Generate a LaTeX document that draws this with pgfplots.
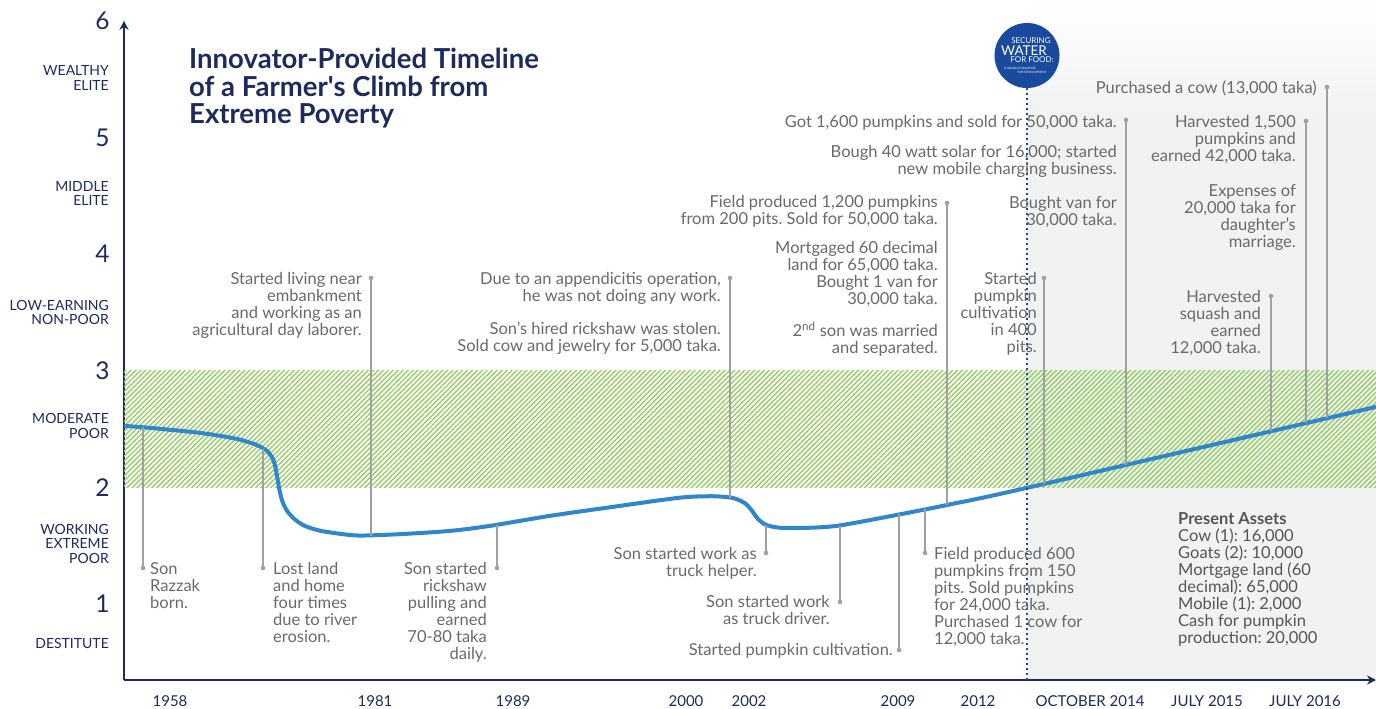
\documentclass[border=0pt]{standalone}
\usepackage{fontspec}
\setmainfont{Lato}
\usepackage{pgfplots}
\pgfplotsset{compat=1.18}
\usetikzlibrary{patterns.meta,arrows.meta}
\frenchspacing
\definecolor{navy}{RGB}{28,42,94}
\definecolor{curvecol}{RGB}{47,134,202}
\definecolor{txtgray}{RGB}{105,105,105}
\definecolor{leader}{RGB}{160,160,160}
\definecolor{hatchgreen}{RGB}{150,204,100}
\definecolor{bggray}{RGB}{241,242,242}
\definecolor{logoblue}{RGB}{26,74,158}
\definecolor{assetgray}{RGB}{85,85,85}
\tikzset{
  ann/.style={font=\fontsize{16.5}{17}\selectfont, text=txtgray, inner sep=0pt},
  annR/.style={ann, anchor=north east, align=right},
  annL/.style={ann, anchor=north west, align=left},
  cat/.style={font=\fontsize{14}{14.5}\selectfont, text=navy, inner sep=0pt, anchor=east, align=right},
}
\newcommand{\leader}[3]{\draw[leader, line width=1.3pt] (#1pt,-#2pt) -- (#1pt,-#3pt); \fill[leader] (#1pt,-#3pt) circle (2.3pt);}
\begin{document}
\frenchspacing
\begin{tikzpicture}
% background grey region (after October 2014)
\fill[bggray] (1027pt,-680pt) rectangle (1376pt,-115pt);
\shade[top color=white, bottom color=bggray] (1027pt,-115pt) rectangle (1376pt,0pt);
\begin{axis}[
  at={(124pt,-680pt)}, anchor=south west,
  scale only axis, width=1252pt, height=659.2pt,
  xmin=124, xmax=1376, ymin=0.35, ymax=6,
  axis lines=left,
  axis line style={draw=navy, line width=2.6pt},
  every outer x axis line/.append style={-{Stealth[length=9pt,width=9pt]}},
  every outer y axis line/.append style={-{Stealth[length=9pt,width=9pt]}},
  tick style={draw=none},
  xtick={170,375,513,686,749,898,978,1090,1207,1305},
  xticklabels={1958,1981,1989,2000,2002,2009,2012,OCTOBER 2014,JULY 2015,JULY 2016},
  xticklabel style={font=\fontsize{15}{15}\selectfont, text=navy, anchor=base, inner sep=0pt, yshift=-24.5pt},
  ytick={1,2,3,4,5,6},
  yticklabels={1,2,3,4,5,6},
  yticklabel style={font=\fontsize{24.5}{24.5}\selectfont, text=navy, anchor=east, inner sep=0pt, xshift=-12pt},
  clip=false,
]
\fill[pattern={Lines[angle=45,distance=3.5pt,line width=1.4pt]}, pattern color=hatchgreen] (axis cs:124,2) rectangle (axis cs:1376,3);
\addplot[curvecol, line width=4pt, smooth, tension=0.45] coordinates {
(124,2.528) (150,2.511) (200,2.468) (235,2.42) (255,2.37) (266,2.32) (272,2.26) (275,2.19) (277,2.10) (279,2.00) (282,1.89) (287,1.80) (295,1.725) (305,1.67) (320,1.63) (340,1.603) (360,1.588) (400,1.60) (450,1.628) (490,1.671) (550,1.757) (613,1.834) (680,1.913) (713,1.925) (733,1.91) (745,1.865) (752,1.80) (758,1.73) (766,1.68) (780,1.655) (810,1.655) (840,1.675) (900,1.77) (947,1.85) (1027,1.997) (1376,2.691)
};
\end{axis}
% dotted line and logo
\draw[logoblue, line width=2.2pt, dash pattern=on 2.2pt off 2.8pt] (1027pt,-88pt) -- (1027pt,-680pt);
\fill[logoblue] (1027pt,-55.5pt) circle (32.5pt);
\node[text=white, inner sep=0pt, font=\fontsize{8}{8}\selectfont] at (1031pt,-41pt) {SECURING};
\node[text=white, inner sep=0pt, font=\fontsize{13.5}{13.5}\selectfont] at (1024pt,-51pt) {WATER};
\node[text=white, inner sep=0pt, font=\fontsize{8}{8}\selectfont] at (1032pt,-60pt) {FOR FOOD:};
\node[text=white, inner sep=0pt, font=\fontsize{3}{3}\selectfont] at (1020pt,-68pt) {A GRAND CHALLENGE};
\node[text=white, inner sep=0pt, font=\fontsize{3}{3}\selectfont] at (1032pt,-72pt) {FOR DEVELOPMENT};
% title
\node[anchor=north west, inner sep=0pt, align=left, text=navy, font=\fontsize{27.5}{27.5}\bfseries\selectfont] at (189pt,-48pt)
  {Innovator-Provided Timeline\\of a Farmer\textquotesingle s Climb from\\Extreme Poverty};
% category labels
\node[cat] at (109pt,-78pt) {WEALTHY\\ELITE};
\node[cat] at (109pt,-193.5pt) {MIDDLE\\ELITE};
\node[cat] at (109pt,-312.5pt) {LOW-EARNING\\NON-POOR};
\node[cat] at (109pt,-426pt) {MODERATE\\POOR};
\node[cat] at (109pt,-543.5pt) {WORKING\\EXTREME\\POOR};
\node[cat] at (109pt,-643pt) {DESTITUTE};
% leader lines
\leader{143}{427}{568}
\leader{263}{449}{568}
\leader{371}{536}{278}
\leader{497}{525}{568}
\leader{730}{498}{278}
\leader{766}{525}{553}
\leader{840}{526}{602}
\leader{899}{514}{650}
\leader{925}{509}{553}
\leader{947}{505}{203}
\leader{1044}{484}{278}
\leader{1126}{465}{120}
\leader{1271}{431}{296}
\leader{1306}{423}{121}
\leader{1327}{418}{87}
% annotations
\node[annL] at (150pt,-562pt) {Son\\Razzak\\born.};
\node[annL] at (273pt,-562pt) {Lost land\\and home\\four times\\due to river\\erosion.};
\node[annR] at (362pt,-272pt) {Started living near\\embankment\\and working as an\\agricultural day laborer.};
\node[annR] at (487pt,-562pt) {Son started\\rickshaw\\pulling and\\earned\\70-80 taka\\daily.};
\node[annR] at (721pt,-272pt) {Due to an appendicitis operation,\\he was not doing any work.};
\node[annR] at (721pt,-322pt) {Son’s hired rickshaw was stolen.\\Sold cow and jewelry for 5,000 taka.};
\node[annR] at (757pt,-547pt) {Son started work as\\truck helper.};
\node[annR] at (830pt,-595pt) {Son started work\\as truck driver.};
\node[annR] at (893pt,-643pt) {Started pumpkin cultivation.};
\node[annL] at (934pt,-547pt) {Field produced 600\\pumpkins from 150\\pits. Sold pumpkins\\for 24,000 taka.\\Purchased 1 cow for\\12,000 taka.};
\node[annR] at (938pt,-195pt) {Field produced 1,200 pumpkins\\from 200 pits. Sold for 50,000 taka.};
\node[annR] at (938pt,-241pt) {Mortgaged 60 decimal\\land for 65,000 taka.\\Bought 1 van for\\30,000 taka.};
\node[annR] at (938pt,-322pt) {2\textsuperscript{nd} son was married\\and separated.};
\node[annR] at (1037pt,-272pt) {Started\\pumpkin\\cultivation\\in 400\\pits.};
\node[annR] at (1117pt,-115pt) {Got 1,600 pumpkins and sold for 50,000 taka.};
\node[annR] at (1117pt,-145pt) {Bough 40 watt solar for 16,000; started\\new mobile charging business.};
\node[annR] at (1117pt,-196pt) {Bought van for\\30,000 taka.};
\node[annR] at (1261pt,-290pt) {Harvested\\squash and\\earned\\12,000 taka.};
\node[annR] at (1296pt,-115pt) {Harvested 1,500\\pumpkins and\\earned 42,000 taka.};
\node[annR] at (1296pt,-184pt) {Expenses of\\20,000 taka for\\daughter’s\\marriage.};
\node[annR] at (1317pt,-81pt) {Purchased a cow (13,000 taka)};
\node[annL, text=assetgray] at (1178pt,-512pt) {\textbf{Present Assets}\\Cow (1): 16,000\\Goats (2): 10,000\\Mortgage land (60\\decimal): 65,000\\Mobile (1): 2,000\\Cash for pumpkin\\production: 20,000};
\pgfresetboundingbox
\useasboundingbox (0pt,0pt) rectangle (1376pt,-709pt);
\end{tikzpicture}
\end{document}
